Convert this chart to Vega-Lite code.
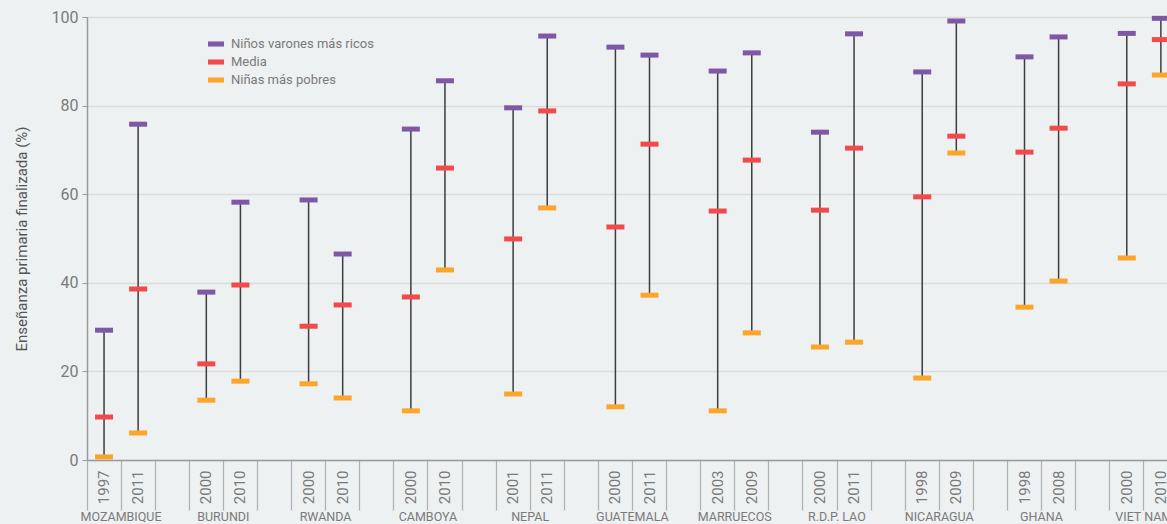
{
  "$schema": "https://vega.github.io/schema/vega-lite/v6.json",
  "autosize": {"type": "none"},
  "padding": {"left": 87, "top": 17, "right": 0, "bottom": 64},
  "width": 1125,
  "height": 443,
  "background": "#eef1f2",
  "config": {
    "view": {"stroke": null},
    "font": "Roboto",
    "axis": {"labelColor": "#7a7a7a", "titleColor": "#555555", "titleFontWeight": "normal"}
  },
  "data": {
    "values": [
      {"slot": "MOZAMBIQUE|1997|a", "country": "MOZAMBIQUE", "year": "1997", "rich": 29.3, "mean": 9.7, "poor": 0.7},
      {"slot": "MOZAMBIQUE|2011|b", "country": "MOZAMBIQUE", "year": "2011", "rich": 75.8, "mean": 38.6, "poor": 6.1},
      {"slot": "BURUNDI|2000|a", "country": "BURUNDI", "year": "2000", "rich": 37.9, "mean": 21.7, "poor": 13.5},
      {"slot": "BURUNDI|2010|b", "country": "BURUNDI", "year": "2010", "rich": 58.2, "mean": 39.5, "poor": 17.8},
      {"slot": "RWANDA|2000|a", "country": "RWANDA", "year": "2000", "rich": 58.7, "mean": 30.2, "poor": 17.2},
      {"slot": "RWANDA|2010|b", "country": "RWANDA", "year": "2010", "rich": 46.5, "mean": 35.0, "poor": 14.0},
      {"slot": "CAMBOYA|2000|a", "country": "CAMBOYA", "year": "2000", "rich": 74.7, "mean": 36.8, "poor": 11.1},
      {"slot": "CAMBOYA|2010|b", "country": "CAMBOYA", "year": "2010", "rich": 85.6, "mean": 65.9, "poor": 42.9},
      {"slot": "NEPAL|2001|a", "country": "NEPAL", "year": "2001", "rich": 79.5, "mean": 49.9, "poor": 14.9},
      {"slot": "NEPAL|2011|b", "country": "NEPAL", "year": "2011", "rich": 95.7, "mean": 78.8, "poor": 56.9},
      {"slot": "GUATEMALA|2000|a", "country": "GUATEMALA", "year": "2000", "rich": 93.2, "mean": 52.6, "poor": 12.0},
      {"slot": "GUATEMALA|2011|b", "country": "GUATEMALA", "year": "2011", "rich": 91.4, "mean": 71.3, "poor": 37.2},
      {"slot": "MARRUECOS|2003|a", "country": "MARRUECOS", "year": "2003", "rich": 87.8, "mean": 56.2, "poor": 11.1},
      {"slot": "MARRUECOS|2009|b", "country": "MARRUECOS", "year": "2009", "rich": 91.9, "mean": 67.7, "poor": 28.7},
      {"slot": "R.D.P. LAO|2000|a", "country": "R.D.P. LAO", "year": "2000", "rich": 74.0, "mean": 56.4, "poor": 25.5},
      {"slot": "R.D.P. LAO|2011|b", "country": "R.D.P. LAO", "year": "2011", "rich": 96.2, "mean": 70.4, "poor": 26.6},
      {"slot": "NICARAGUA|1998|a", "country": "NICARAGUA", "year": "1998", "rich": 87.6, "mean": 59.4, "poor": 18.5},
      {"slot": "NICARAGUA|2009|b", "country": "NICARAGUA", "year": "2009", "rich": 99.1, "mean": 73.1, "poor": 69.3},
      {"slot": "GHANA|1998|a", "country": "GHANA", "year": "1998", "rich": 91.0, "mean": 69.5, "poor": 34.5},
      {"slot": "GHANA|2008|b", "country": "GHANA", "year": "2008", "rich": 95.5, "mean": 74.9, "poor": 40.4},
      {"slot": "VIET NAM|2000|a", "country": "VIET NAM", "year": "2000", "rich": 96.3, "mean": 84.9, "poor": 45.6},
      {"slot": "VIET NAM|2010|b", "country": "VIET NAM", "year": "2010", "rich": 99.7, "mean": 94.9, "poor": 86.9}
    ]
  },
  "encoding": {
    "x": {
      "field": "slot", "type": "nominal",
      "scale": {"domain": ["MOZAMBIQUE|1997|a","MOZAMBIQUE|2011|b","gap1","BURUNDI|2000|a","BURUNDI|2010|b","gap2","RWANDA|2000|a","RWANDA|2010|b","gap3","CAMBOYA|2000|a","CAMBOYA|2010|b","gap4","NEPAL|2001|a","NEPAL|2011|b","gap5","GUATEMALA|2000|a","GUATEMALA|2011|b","gap6","MARRUECOS|2003|a","MARRUECOS|2009|b","gap7","R.D.P. LAO|2000|a","R.D.P. LAO|2011|b","gap8","NICARAGUA|1998|a","NICARAGUA|2009|b","gap9","GHANA|1998|a","GHANA|2008|b","gap10","VIET NAM|2000|a","VIET NAM|2010|b","gap11"], "paddingInner": 0, "paddingOuter": 0},
      "axis": {
        "title": null, "grid": false, "domainColor": "#9a9a9a", "domainWidth": 1.5,
        "bandPosition": 0,
        "tickSize": 50, "tickColor": "#b0b0b0", "tickWidth": 1.2,
        "labelAngle": -90, "labelAlign": "right", "labelBaseline": "middle", "labelPadding": -40,
        "labelFontSize": 15, "labelColor": "#7a7a7a", "labelOverlap": false,
        "labelExpr": "indexof(datum.value, '|') >= 0 ? split(datum.value, '|')[1] : ''"
      }
    }
  },
  "layer": [
    {
      "mark": {"type": "rule", "color": "#3d3d3d", "strokeWidth": 1.5},
      "encoding": {
        "y": {
          "field": "poor", "type": "quantitative",
          "scale": {"domain": [0, 100]},
          "axis": {
            "title": "Enseñanza primaria finalizada (%)", "titleFontSize": 15, "titlePadding": 22,
            "values": [0, 20, 40, 60, 80, 100], "labelFontSize": 16, "labelPadding": 4,
            "tickSize": 5, "tickColor": "#9a9a9a", "domainColor": "#9a9a9a", "domainWidth": 1.5,
            "gridColor": "#d9dbdc", "gridWidth": 1.5
          }
        },
        "y2": {"field": "rich"}
      }
    },
    {
      "transform": [{"fold": ["rich", "mean", "poor"], "as": ["series", "value"]}],
      "mark": {"type": "tick", "size": 18, "thickness": 5, "opacity": 1},
      "encoding": {
        "y": {"field": "value", "type": "quantitative"},
        "color": {
          "field": "series", "type": "nominal",
          "scale": {"domain": ["rich", "mean", "poor"], "range": ["#7e57a5", "#f04a4a", "#fba52a"]},
          "legend": {
            "title": null, "orient": "none", "legendX": 121, "legendY": 19,
            "symbolType": "M-1,-0.32H1V0.32H-1Z", "symbolSize": 256, "symbolStrokeWidth": 0, "symbolOpacity": 1,
            "labelFontSize": 13, "labelColor": "#7a7a7a", "rowPadding": 3, "labelOffset": 7,
            "labelExpr": "datum.value == 'rich' ? 'Niños varones más ricos' : datum.value == 'mean' ? 'Media' : 'Niñas más pobres'"
          }
        }
      }
    },
    {
      "transform": [{"filter": "indexof(datum.slot, '|a') >= 0"}],
      "mark": {"type": "text", "dx": 17, "baseline": "top", "align": "center", "fontSize": 12.5, "color": "#7a7a7a"},
      "encoding": {
        "y": {"datum": -11.5, "type": "quantitative"},
        "text": {"field": "country"}
      }
    }
  ]
}
